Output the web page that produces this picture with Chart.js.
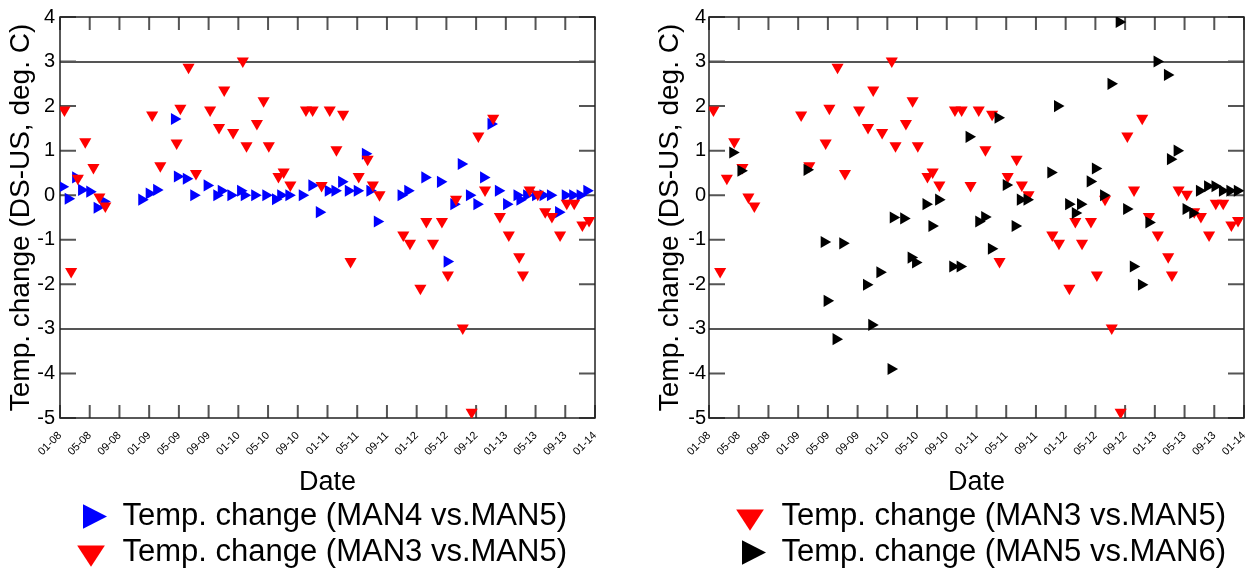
<!DOCTYPE html>
<html>
<head>
<meta charset="utf-8">
<script src="https://cdn.jsdelivr.net/npm/chart.js@4.4.1/dist/chart.umd.min.js"></script>
<style>
  html, body { margin: 0; padding: 0; background: #fff; overflow: hidden; }
  .panel { position: absolute; top: 0; width: 630px; height: 569px; }
  #leftPanel { left: 0; }
  #rightPanel { left: 630px; }
</style>
</head>
<body>
<div class="panel" id="leftPanel"><canvas id="leftChart" width="630" height="569"></canvas></div>
<div class="panel" id="rightPanel"><canvas id="rightChart" width="630" height="569"></canvas></div>
<script>
Chart.defaults.font.family = "'Liberation Sans', Arial, sans-serif";
Chart.defaults.color = '#000';
Chart.defaults.animation = false;

// x axis labels, one every 4 months (mm-yy)
const tickLabels = ['01-08', '05-08', '09-08', '01-09', '05-09', '09-09', '01-10', '05-10', '09-10',
                    '01-11', '05-11', '09-11', '01-12', '05-12', '09-12', '01-13', '05-13', '09-13', '01-14'];

// x values are months since Jan 2008
const man3Months = [0.6, 1.5, 2.4, 3.4, 4.5, 5.3, 6.1, 12.4, 13.5, 15.7, 16.2, 17.3, 18.3, 20.2, 21.4, 22.1,
                    23.3, 24.6, 25.1, 26.5, 27.4, 28.1, 29.4, 30.1, 31.0, 33.1, 34.0, 35.2, 36.3, 37.2, 38.1,
                    39.1, 40.2, 41.4, 42.1, 43.0, 46.2, 47.1, 48.5, 49.3, 50.2, 51.4, 52.2, 53.3, 54.2, 55.4,
                    56.3, 57.2, 58.3, 59.2, 60.4, 61.8, 62.3, 63.2, 64.3, 65.3, 66.2, 67.3, 68.2, 69.2, 70.3, 71.2];
const man3Values = [1.91, -1.71, 0.38, 1.2, 0.62, -0.04, -0.24, 1.8, 0.66, 1.17, 1.95, 2.87, 0.49, 1.91, 1.52, 2.36,
                    1.41, 3.01, 1.11, 1.61, 2.12, 1.11, 0.42, 0.52, 0.23, 1.91, 1.91, 0.22, 1.91, 1.02, 1.82,
                    -1.49, 0.42, 0.81, 0.23, 0.01, -0.89, -1.08, -2.09, -0.59, -1.08, -0.59, -1.79, -0.09, -2.98, -4.87,
                    1.33, 0.12, 1.73, -0.48, -0.89, -1.38, -1.79, 0.12, 0.02, -0.37, -0.48, -0.89, -0.18, -0.18, -0.67, -0.57];

const man4Months = [0.3, 1.1, 2.1, 2.9, 4.0, 5.0, 5.9, 11.0, 12.0, 13.0, 15.4, 15.8, 17.0, 18.0, 19.8, 21.1,
                    21.7, 23.0, 24.3, 24.8, 26.2, 27.7, 29.0, 29.7, 30.8, 32.6, 33.9, 34.9, 36.1, 37.0, 37.9,
                    38.8, 40.0, 41.1, 41.7, 42.7, 45.9, 46.8, 49.1, 51.2, 52.1, 53.0, 54.0, 55.1, 56.1, 57.0,
                    58.0, 59.0, 60.1, 61.5, 61.9, 62.8, 64.0, 65.0, 66.0, 67.1, 68.0, 69.0, 70.0, 70.9];
const man4Values = [0.19, -0.08, 0.4, 0.12, 0.08, -0.28, -0.14, -0.1, 0.04, 0.12, 1.71, 0.42, 0.37, 0.0, 0.22, 0.0,
                    0.1, 0.0, 0.1, 0.0, 0.0, 0.0, -0.09, 0.0, 0.0, 0.0, 0.22, -0.38, 0.1, 0.1, 0.3,
                    0.1, 0.1, 0.93, 0.1, -0.59, 0.0, 0.1, 0.4, 0.3, -1.49, -0.2, 0.7, 0.0, -0.2, 0.4,
                    1.6, 0.1, -0.2, 0.0, -0.1, 0.0, 0.0, 0.0, 0.0, -0.38, 0.0, 0.0, 0.0, 0.1];

const man6Months = [3.2, 4.3, 13.2, 15.5, 15.9, 17.1, 18.0, 21.2, 21.9, 23.0, 24.5, 24.8, 26.2, 27.2, 27.8, 29.2,
                    30.0, 30.9, 32.8, 33.8, 35.0, 36.3, 37.1, 38.0, 38.9, 40.0, 41.2, 41.9, 42.8, 46.0, 46.9,
                    48.4, 49.3, 50.0, 51.3, 52.0, 53.1, 54.1, 55.2, 56.2, 57.1, 58.2, 59.2, 60.3, 61.7, 62.1,
                    63.0, 64.2, 65.1, 66.0, 67.1, 68.1, 69.1, 70.1, 71.1];
const man6Values = [0.96, 0.55, 0.57, -1.05, -2.37, -3.23, -1.08, -2.01, -2.91, -1.73, -3.9, -0.5, -0.52, -1.4, -1.51, -0.2,
                    -0.69, -0.1, -1.6, -1.6, 1.31, -0.59, -0.49, -1.2, 1.74, 0.23, -0.69, -0.1, -0.1, 0.51, 2.0,
                    -0.2, -0.4, -0.2, 0.31, 0.6, 0.0, 2.5, 3.89, -0.31, -1.6, -2.01, -0.61, 3.0, 2.7, 0.81,
                    1.0, -0.31, -0.4, 0.1, 0.2, 0.2, 0.1, 0.1, 0.1];

function toPoints(xs, ys) {
    return xs.map((x, i) => ({ x: x, y: ys[i] }));
}

// frame + inward tick marks, and centre the legend under the plot
const frameTicks = {
    id: 'frameTicks',
    afterLayout(chart, args, opts) {
        const lg = chart.legend, a = chart.chartArea;
        const shift = (a.left + a.right) / 2 - (lg.left + lg.right + 5) / 2 + (opts.legendOffset || 0);
        lg.left += shift;
        lg.right += shift;
    },
    beforeDatasetsDraw(chart) {
        const { ctx, chartArea: a, scales: { x, y } } = chart;
        ctx.save();
        ctx.strokeStyle = '#555';
        ctx.lineWidth = 2;
        ctx.beginPath();
        y.ticks.forEach(t => {
            const py = y.getPixelForValue(t.value);
            ctx.moveTo(a.left, py); ctx.lineTo(a.left + 16, py);
            ctx.moveTo(a.right - 16, py); ctx.lineTo(a.right, py);
        });
        x.ticks.forEach(t => {
            const px = x.getPixelForValue(t.value);
            ctx.moveTo(px, a.bottom); ctx.lineTo(px, a.bottom - 13);
            ctx.moveTo(px, a.top); ctx.lineTo(px, a.top + 13);
        });
        ctx.stroke();
        ctx.strokeStyle = '#222';
        ctx.lineWidth = 1.5;
        ctx.strokeRect(a.left, a.top, a.right - a.left, a.bottom - a.top);
        ctx.restore();
    }
};

function makeChart(canvasId, datasets, padLeft, padRight, yTickPad, legendOffset) {
    const ctx = document.getElementById(canvasId).getContext('2d');
    return new Chart(ctx, {
        type: 'scatter',
        data: { datasets: datasets },
        options: {
            responsive: false,
            layout: { padding: { left: padLeft, right: padRight, top: 17, bottom: -9 } },
            scales: {
                x: {
                    type: 'linear',
                    min: 0,
                    max: 72,
                    grid: { display: false },
                    border: { display: false },
                    ticks: {
                        stepSize: 4,
                        autoSkip: false,
                        minRotation: 45,
                        maxRotation: 45,
                        padding: 3,
                        font: { size: 11 },
                        callback: (v, i) => tickLabels[i]
                    },
                    title: {
                        display: true,
                        text: 'Date',
                        font: { size: 27, lineHeight: 1 },
                        padding: { top: 0, bottom: 0 }
                    },
                    afterFit: s => { s.height = 78; }
                },
                y: {
                    min: -5,
                    max: 4,
                    grid: {
                        drawTicks: false,
                        lineWidth: 2,
                        color: c => (c.tick && Math.abs(c.tick.value) === 3) ? '#555' : 'rgba(0,0,0,0)'
                    },
                    border: { display: false },
                    ticks: { stepSize: 1, padding: yTickPad, font: { size: 20 } },
                    title: {
                        display: true,
                        text: 'Temp. change (DS-US, deg. C)',
                        font: { size: 28 },
                        padding: { top: 4, bottom: 0 }
                    },
                    afterFit: s => { s.width = 60; }
                }
            },
            plugins: {
                tooltip: { enabled: false },
                frameTicks: { legendOffset: legendOffset },
                legend: {
                    position: 'bottom',
                    labels: {
                        usePointStyle: true,
                        pointStyleWidth: 32,
                        boxHeight: 20,
                        padding: 5,
                        color: '#000',
                        font: { size: 31 },
                        sort: (a, b) => a.datasetIndex - b.datasetIndex
                    }
                }
            }
        },
        plugins: [frameTicks]
    });
}

function series(label, xs, ys, color, rotation, order) {
    return {
        label: label,
        data: toPoints(xs, ys),
        pointStyle: 'triangle',
        rotation: rotation,
        pointRadius: 7,
        pointBorderWidth: 0,
        borderWidth: 0,
        backgroundColor: color,
        borderColor: color,
        order: order
    };
}

document.addEventListener('DOMContentLoaded', function() {
    makeChart('leftChart', [
        series('Temp. change (MAN4 vs.MAN5)', man4Months, man4Values, '#0000ff', 90, 1),
        series('Temp. change (MAN3 vs.MAN5)', man3Months, man3Values, '#ff0000', 180, 0)
    ], 0, 35, 5, -4);

    makeChart('rightChart', [
        series('Temp. change (MAN3 vs.MAN5)', man3Months, man3Values, '#ff0000', 180, 1),
        series('Temp. change (MAN5 vs.MAN6)', man6Months, man6Values, '#000000', 90, 0)
    ], 19, 16, 3, 6);
});
</script>
</body>
</html>
